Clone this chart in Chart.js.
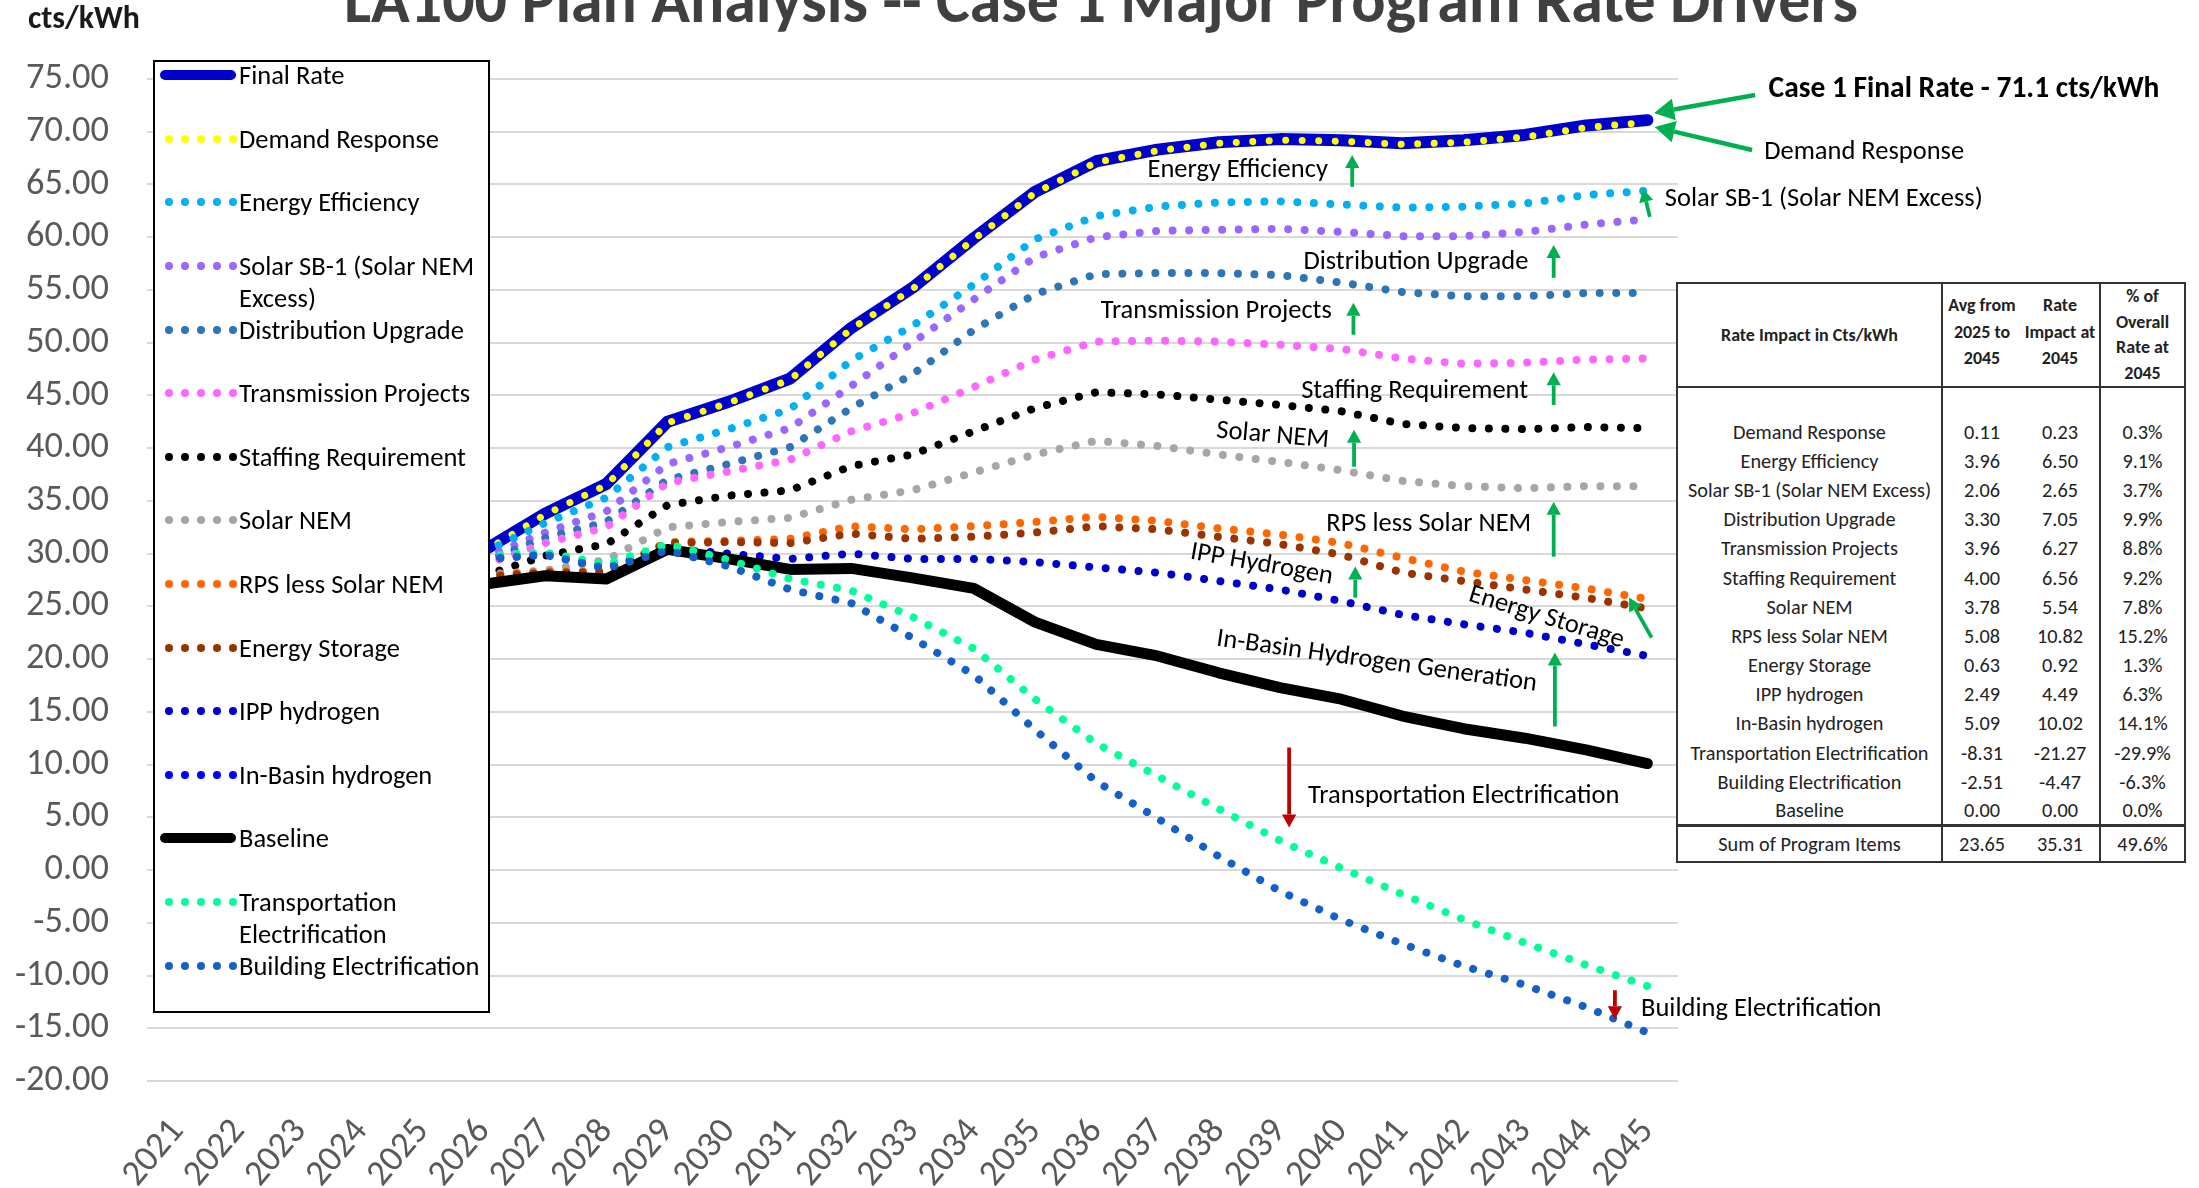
<!DOCTYPE html>
<html>
<head>
<meta charset="utf-8">
<script src="https://cdn.jsdelivr.net/npm/chart.js@4.4.1/dist/chart.umd.min.js"></script>
<style>
html,body{margin:0;padding:0;background:#fff;}
#wrap{position:relative;width:2199px;height:1188px;overflow:hidden;background:#fff;}
#c{position:absolute;left:0;top:0;}
#legend{position:absolute;left:153px;top:60px;width:333px;height:949px;border:2.5px solid #000;background:#fff;}
.li{position:absolute;left:84px;white-space:nowrap;color:#000;}
.ls{position:absolute;left:4px;}
#tbl{position:absolute;left:1676px;top:282px;width:508px;border-collapse:collapse;background:#fff;border:2px solid #333;table-layout:fixed;color:#222;}
#tbl td{padding:0;text-align:center;white-space:nowrap;}
</style>
</head>
<body>
<div id="wrap">
<canvas id="c" width="2199" height="1188"></canvas>
<div id="legend"></div>
<table id="tbl"></table>
</div>
<script>
// ---------------- DATA ----------------
const years = ['2021','2022','2023','2024','2025','2026','2027','2028','2029','2030','2031','2032','2033','2034','2035','2036','2037','2038','2039','2040','2041','2042','2043','2044','2045'];
const N = null;
const finalRate       = [N,N,N,N,N, 30.3,33.8,36.6,42.5,44.4,46.6,51.4,55.2,59.9,64.3,67.2,68.3,69.0,69.3,69.2,68.9,69.2,69.7,70.6,71.1];
const demandResponse  = [N,N,N,N,N, 30.2,33.7,36.5,42.4,44.3,46.5,51.3,55.1,59.8,64.2,67.1,68.2,68.9,69.2,69.1,68.8,69.0,69.5,70.4,70.9];
const energyEfficiency= [N,N,N,N,N, 30.1,32.9,35.3,40.1,41.8,43.7,48.3,51.6,55.5,59.8,62.0,62.9,63.3,63.4,63.1,62.8,62.9,63.2,64.0,64.4];
const solarSB1        = [N,N,N,N,N, 29.6,32.0,34.0,38.5,40.1,41.9,45.9,50.0,54.1,58.1,60.0,60.6,60.7,60.8,60.5,60.1,60.1,60.5,61.2,61.7];
const distUpgrade     = [N,N,N,N,N, 29.2,31.5,33.0,37.0,38.5,40.1,43.8,47.0,51.2,54.6,56.5,56.6,56.6,56.4,55.7,54.8,54.4,54.4,54.7,54.7];
const transProjects   = [N,N,N,N,N, 28.9,31.0,32.5,36.7,37.8,38.9,41.6,43.3,45.8,48.4,50.1,50.2,50.1,49.8,49.4,48.5,48.0,48.1,48.4,48.5];
const staffing        = [N,N,N,N,N, 27.9,29.8,30.9,34.6,35.5,36.0,38.3,39.4,41.6,43.8,45.3,45.1,44.6,44.1,43.5,42.3,41.9,41.8,42.0,41.9];
const solarNEM        = [N,N,N,N,N, 28.0,28.4,29.4,32.5,33.0,33.4,35.1,36.0,37.7,39.4,40.7,40.2,39.4,38.7,37.9,36.9,36.4,36.2,36.4,36.4];
const rpsLessNEM      = [N,N,N,N,N, 27.9,28.3,28.3,31.1,31.2,31.4,32.6,32.3,32.6,33.0,33.5,33.1,32.4,31.8,31.0,29.6,28.3,27.5,26.7,25.7];
const energyStorage   = [N,N,N,N,N, 27.8,28.2,28.2,31.0,31.1,31.0,31.9,31.4,31.6,32.0,32.6,32.3,31.6,30.9,29.9,28.2,27.4,26.6,25.8,24.8];
const ippHydrogen     = [N,N,N,N,N, 29.5,29.9,28.7,30.5,30.0,29.5,30.0,29.5,29.5,29.2,28.7,28.2,27.4,26.6,25.5,24.2,23.3,22.5,21.4,20.3];
const inBasinHydrogen = [N,N,N,N,N, 27.1,27.9,27.6,30.4,29.5,28.5,28.6,27.7,26.7,23.5,21.4,20.3,18.7,17.3,16.2,14.6,13.4,12.5,11.4,10.1];
const baseline        = [N,N,N,N,N, 27.1,27.9,27.6,30.4,29.5,28.5,28.6,27.7,26.7,23.5,21.4,20.3,18.7,17.3,16.2,14.6,13.4,12.5,11.4,10.1];
const transportElec   = [N,N,N,N,N, 29.8,30.1,29.0,30.9,29.4,27.6,26.5,24.0,21.0,16.2,12.0,8.9,5.8,2.8,0.2,-2.3,-4.7,-6.9,-9.0,-11.0];
const buildingElec    = [N,N,N,N,N, 29.5,29.9,28.6,30.3,28.8,26.6,25.3,22.0,18.5,13.3,8.4,4.9,1.3,-2.0,-4.7,-7.0,-9.1,-10.9,-13.0,-15.4];

const yTicks = {min: -20, max: 75, step: 5};

// table data
const tableItems = ['Demand Response','Energy Efficiency','Solar SB-1 (Solar NEM Excess)','Distribution Upgrade','Transmission Projects','Staffing Requirement','Solar NEM','RPS less Solar NEM','Energy Storage','IPP hydrogen','In-Basin hydrogen','Transportation Electrification','Building Electrification','Baseline'];
const avg2025to2045 = [0.11,3.96,2.06,3.30,3.96,4.00,3.78,5.08,0.63,2.49,5.09,-8.31,-2.51,0.00];
const impact2045    = [0.23,6.50,2.65,7.05,6.27,6.56,5.54,10.82,0.92,4.49,10.02,-21.27,-4.47,0.00];
const pctOverall2045= [0.3,9.1,3.7,9.9,8.8,9.2,7.8,15.2,1.3,6.3,14.1,-29.9,-6.3,0.0];
const sumLabel = 'Sum of Program Items';
const sumValues = [23.65, 35.31, 49.6];

// ---------------- STYLE ----------------
const FONT = 'Carlito, Calibri, Lato, sans-serif';
const mctx = document.createElement('canvas').getContext('2d');
function sizeFor(text, target, weight){ mctx.font = (weight||'normal')+' 100px '+FONT; return 100*target/mctx.measureText(text).width; }
const tickSize = sizeFor('75.00', 83);
const legSize = sizeFor('Demand Response', 200);
const tblSize = sizeFor('Demand Response', 153);
const tblHeadSize = sizeFor('Rate Impact in Cts/kWh', 177, 'bold');
const titleText = 'LA100 Plan Analysis -- Case 1 Major Program Rate Drivers';
const titleSize = sizeFor(titleText, 1514, 'bold');
const unitSize = sizeFor('cts/kWh', 112, 'bold');
const caseText = 'Case 1 Final Rate - 71.1 cts/kWh';
const caseSize = sizeFor(caseText, 391, 'bold');

const GREEN = '#00B050', RED = '#C00000';

const series = [
  {label:'Final Rate', data: finalRate, color:'#0000CC', kind:'solid', w:12},
  {label:'Demand Response', data: demandResponse, color:'#FFFF00', kind:'dot', w:7},
  {label:'Energy Efficiency', data: energyEfficiency, color:'#00B0F0', kind:'dot', w:8},
  {label:'Solar SB-1 (Solar NEM Excess)', data: solarSB1, color:'#9966FF', kind:'dot', w:8},
  {label:'Distribution Upgrade', data: distUpgrade, color:'#2E75B6', kind:'dot', w:8},
  {label:'Transmission Projects', data: transProjects, color:'#FF66FF', kind:'dot', w:8},
  {label:'Staffing Requirement', data: staffing, color:'#000000', kind:'dot', w:8},
  {label:'Solar NEM', data: solarNEM, color:'#A6A6A6', kind:'dot', w:8},
  {label:'RPS less Solar NEM', data: rpsLessNEM, color:'#FF6600', kind:'dot', w:8},
  {label:'Energy Storage', data: energyStorage, color:'#993300', kind:'dot', w:8},
  {label:'IPP hydrogen', data: ippHydrogen, color:'#0000CC', kind:'dot', w:8},
  {label:'In-Basin hydrogen', data: inBasinHydrogen, color:'#0000FF', kind:'dot', w:8},
  {label:'Baseline', data: baseline, color:'#000000', kind:'solid', w:11},
  {label:'Transportation Electrification', data: transportElec, color:'#00FF99', kind:'dot', w:8},
  {label:'Building Electrification', data: buildingElec, color:'#1560C8', kind:'dot', w:8}
];

const datasets = series.map((s,i)=>({
  label: s.label, data: s.data, borderColor: s.color, backgroundColor: s.color,
  borderWidth: s.w, pointRadius: 0, pointHoverRadius: 0, tension: 0, fill:false,
  borderCapStyle: 'round', borderJoinStyle: 'round',
  borderDash: s.kind==='dot' ? [0.01, 16.5] : [],
  order: series.length - 1 - i
}));

// annotations in (category index, value) coordinates
const notes = [
  {t: caseText, x:29.17, y:73.96, bold:true, size:caseSize},
  {t:'Demand Response', x:27.54, y:68.0},
  {t:'Energy Efficiency', x:17.31, y:66.3},
  {t:'Solar SB-1 (Solar NEM Excess)', x:26.88, y:63.6},
  {t:'Distribution Upgrade', x:20.22, y:57.66},
  {t:'Transmission Projects', x:16.96, y:53.0},
  {t:'Staffing Requirement', x:20.2, y:45.35},
  {t:'Solar NEM', x:17.88, y:41.18, rot:5},
  {t:'RPS less Solar NEM', x:20.43, y:32.75},
  {t:'IPP Hydrogen', x:17.70, y:28.96, rot:10},
  {t:'Energy Storage', x:22.35, y:23.93, rot:17},
  {t:'In-Basin Hydrogen Generation', x:19.58, y:19.77, rot:8},
  {t:'Transportation Electrification', x:21.0, y:6.98},
  {t:'Building Electrification', x:25.86, y:-13.2}
];
const arrows = [
  {x1:25.76,y1:73.48,x2:24.11,y2:71.78,c:GREEN,w:4.5,h:20},
  {x1:25.71,y1:68.27,x2:24.12,y2:70.45,c:GREEN,w:4.5,h:20},
  {x1:19.18,y1:64.77,x2:19.18,y2:67.8,c:GREEN},
  {x1:24.04,y1:61.93,x2:23.93,y2:64.58,c:GREEN},
  {x1:22.47,y1:56.15,x2:22.47,y2:59.27,c:GREEN},
  {x1:19.2,y1:50.75,x2:19.2,y2:53.78,c:GREEN},
  {x1:22.47,y1:44.1,x2:22.47,y2:47.2,c:GREEN},
  {x1:19.21,y1:38.24,x2:19.21,y2:41.75,c:GREEN},
  {x1:22.47,y1:29.71,x2:22.47,y2:34.92,c:GREEN},
  {x1:19.23,y1:25.83,x2:19.23,y2:28.77,c:GREEN},
  {x1:24.07,y1:22.04,x2:23.7,y2:25.83,c:GREEN},
  {x1:22.49,y1:13.61,x2:22.49,y2:20.62,c:GREEN},
  {x1:18.15,y1:11.62,x2:18.15,y2:4.04,c:RED},
  {x1:23.47,y1:-11.4,x2:23.47,y2:-14.15,c:RED}
];

function drawArrow(ctx, x1,y1,x2,y2,color,w,h){
  const ang = Math.atan2(y2-y1,x2-x1);
  const hl = h||13, hw = (h||13)*0.55;
  const bx = x2 - hl*Math.cos(ang), by = y2 - hl*Math.sin(ang);
  ctx.strokeStyle = color; ctx.fillStyle = color; ctx.lineWidth = w||3.8; ctx.lineCap='butt';
  ctx.beginPath(); ctx.moveTo(x1,y1); ctx.lineTo(bx,by); ctx.stroke();
  ctx.beginPath(); ctx.moveTo(x2,y2);
  ctx.lineTo(bx + hw*Math.sin(ang), by - hw*Math.cos(ang));
  ctx.lineTo(bx - hw*Math.sin(ang), by + hw*Math.cos(ang));
  ctx.closePath(); ctx.fill();
}

const annotPlugin = {
  id:'annot',
  afterDatasetsDraw(chart){
    const {ctx, scales:{x,y}} = chart;
    ctx.save();
    arrows.forEach(a=>drawArrow(ctx, x.getPixelForValue(a.x1), y.getPixelForValue(a.y1), x.getPixelForValue(a.x2), y.getPixelForValue(a.y2), a.c, a.w, a.h));
    notes.forEach(n=>{
      ctx.save();
      ctx.translate(x.getPixelForValue(n.x), y.getPixelForValue(n.y));
      ctx.rotate((n.rot||0)*Math.PI/180);
      ctx.font = (n.bold?'bold ':'') + (n.size||legSize) + 'px ' + FONT;
      ctx.fillStyle = '#000'; ctx.textAlign='center'; ctx.textBaseline='middle';
      ctx.fillText(n.t,0,0);
      ctx.restore();
    });
    ctx.restore();
  },
  afterDraw(chart){
    const ctx = chart.ctx;
    ctx.save();
    ctx.font = 'bold ' + titleSize + 'px ' + FONT;
    ctx.fillStyle = '#404040'; ctx.textAlign='center'; ctx.textBaseline='alphabetic';
    ctx.fillText(titleText, 1101, 22);
    ctx.font = 'bold ' + unitSize + 'px ' + FONT;
    ctx.fillStyle = '#1a1a1a'; ctx.textAlign='left';
    ctx.fillText('cts/kWh', 28, 28);
    ctx.restore();
  }
};

new Chart(document.getElementById('c'), {
  type:'line',
  data:{labels: years, datasets},
  plugins:[annotPlugin],
  options:{
    responsive:false, animation:false, devicePixelRatio:1,
    layout:{padding:{left:0,right:521,top:79,bottom:0}},
    plugins:{legend:{display:false}, tooltip:{enabled:false}, title:{display:false}},
    scales:{
      x:{
        type:'category', offset:true,
        grid:{display:false, drawTicks:false},
        border:{display:false},
        ticks:{autoSkip:false, minRotation:50, maxRotation:50, padding:30, color:'#595959', font:{family:FONT, size:tickSize}},
        afterFit(s){ s.height = 107; }
      },
      y:{
        min:yTicks.min, max:yTicks.max,
        grid:{color:'#D9D9D9', lineWidth:2, drawTicks:false},
        border:{display:false},
        ticks:{stepSize:yTicks.step, padding:38, color:'#595959', font:{family:FONT, size:tickSize}, callback:v=>Number(v).toFixed(2)},
        afterFit(s){ s.width = 147; }
      }
    }
  }
});

// ---------------- HTML LEGEND ----------------
(function(){
  const leg = document.getElementById('legend');
  mctx.font = legSize + 'px ' + FONT;
  series.forEach((s,i)=>{
    const cy = 13.2 + 63.6*i;
    // wrap text
    const words = s.label.split(' ');
    const lines = []; let cur = '';
    words.forEach(w=>{ const t = cur ? cur+' '+w : w; if (mctx.measureText(t).width > 262 && cur){ lines.push(cur); cur = w; } else cur = t; });
    lines.push(cur);
    const d = document.createElement('div');
    d.className='li';
    d.style.top = (cy - 16) + 'px';
    d.style.fontSize = legSize + 'px';
    d.style.lineHeight = '32px';
    d.style.fontFamily = FONT;
    d.innerHTML = lines.join('<br>');
    leg.appendChild(d);
    const svgNS='http://www.w3.org/2000/svg';
    const svg = document.createElementNS(svgNS,'svg');
    svg.setAttribute('width','78'); svg.setAttribute('height','14');
    svg.setAttribute('class','ls'); svg.style.top = (cy-7)+'px';
    if (s.kind==='solid'){
      const l = document.createElementNS(svgNS,'line');
      l.setAttribute('x1','6'); l.setAttribute('x2','72'); l.setAttribute('y1','7'); l.setAttribute('y2','7');
      l.setAttribute('stroke', s.color); l.setAttribute('stroke-width','10'); l.setAttribute('stroke-linecap','round');
      svg.appendChild(l);
    } else {
      for (let k=0;k<5;k++){
        const c = document.createElementNS(svgNS,'circle');
        c.setAttribute('cx', String(10 + 16*k)); c.setAttribute('cy','7'); c.setAttribute('r','4');
        c.setAttribute('fill', s.color);
        svg.appendChild(c);
      }
    }
    leg.appendChild(svg);
  });
})();

// ---------------- HTML TABLE ----------------
(function(){
  const t = document.getElementById('tbl');
  t.style.fontFamily = FONT;
  const cg = document.createElement('colgroup');
  [265,79,79,85].forEach(w=>{ const c=document.createElement('col'); c.style.width=w+'px'; cg.appendChild(c); });
  t.appendChild(cg);
  const head = document.createElement('tr');
  head.style.height='102px';
  const heads = ['Rate Impact in Cts/kWh','Avg from<br>2025 to<br>2045','Rate<br>Impact at<br>2045','% of<br>Overall<br>Rate at<br>2045'];
  heads.forEach((h,i)=>{
    const td = document.createElement('td');
    td.innerHTML = h; td.style.fontWeight='bold'; td.style.fontSize = tblHeadSize+'px';
    td.style.lineHeight = (i===3?'25.5px':'26.5px');
    td.style.borderBottom = '2px solid #333';
    if (i===1 || i===3) td.style.borderLeft = '2px solid #333';
    if (i===1 || i===2) td.style.paddingBottom = '6px';
    head.appendChild(td);
  });
  t.appendChild(head);
  const spacer = document.createElement('tr'); spacer.style.height='30px';
  for (let i=0;i<4;i++){ const td=document.createElement('td'); if(i===1||i===3) td.style.borderLeft='2px solid #333'; spacer.appendChild(td); }
  t.appendChild(spacer);
  tableItems.forEach((name,r)=>{
    const tr = document.createElement('tr'); tr.style.height='29.2px';
    const vals = [name, avg2025to2045[r].toFixed(2), impact2045[r].toFixed(2), pctOverall2045[r].toFixed(1)+'%'];
    vals.forEach((v,i)=>{
      const td=document.createElement('td'); td.textContent=v; td.style.fontSize=tblSize+'px';
      if(i===1||i===3) td.style.borderLeft='2px solid #333';
      tr.appendChild(td);
    });
    t.appendChild(tr);
  });
  const sr = document.createElement('tr'); sr.style.height='36px';
  [sumLabel, sumValues[0].toFixed(2), sumValues[1].toFixed(2), sumValues[2].toFixed(1)+'%'].forEach((v,i)=>{
    const td=document.createElement('td'); td.textContent=v; td.style.fontSize=tblSize+'px';
    td.style.borderTop='3px solid #333';
    if(i===1||i===3) td.style.borderLeft='2px solid #333';
    sr.appendChild(td);
  });
  t.appendChild(sr);
})();
</script>
</body>
</html>
